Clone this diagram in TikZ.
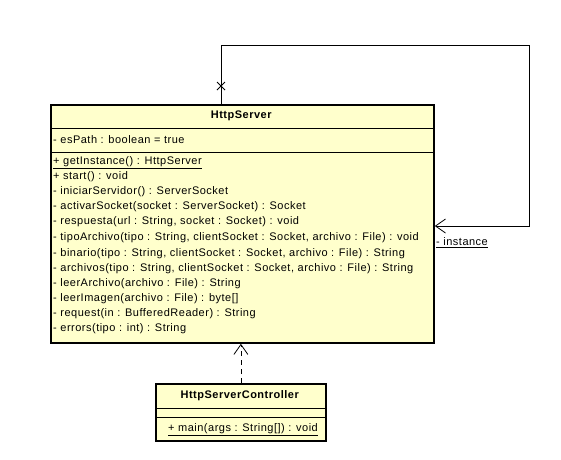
\documentclass[tikz,border=0pt]{standalone}
\usepackage{fontspec}
\setmainfont{Liberation Sans}[LetterSpace=4.5]
\usetikzlibrary{arrows.meta}
\definecolor{umlyellow}{RGB}{255,255,204}

\begin{document}
\begin{tikzpicture}[x=1pt,y=-1pt]
						\tikzstyle{every node}+=[inner sep=0pt, font=\fontsize{11}{13}\selectfont]
						\tikzstyle{classbox}=[draw=black, line width=1.8pt, fill=umlyellow, anchor=north west]
						\tikzstyle{sep}=[black, line width=0.9pt]
						\tikzstyle{openhead}=[-{Straight Barb[length=10pt,width=14pt,line width=0.8pt]}]
						\useasboundingbox (0,0) rectangle (561,459);
						\node [classbox, minimum width=383pt, minimum height=238pt] (server) at (50,104) {};
						\draw [sep] (50,128) -- (433,128);
						\draw [sep] (50,152) -- (433,152);
						\draw (241.5,116) node {\textbf{HttpServer}};
						\draw (53,140) node [right] {- esPath : boolean = true};
						\draw (53,163) node [right] {\underline{+ getInstance() : HttpServer}};
						\draw (53,177) node [right] {+ start() : void};
						\draw (53,192) node [right] {- iniciarServidor() : ServerSocket};
						\draw (53,207) node [right] {- activarSocket(socket : ServerSocket) : Socket};
						\draw (53,222) node [right] {- respuesta(url : String, socket : Socket) : void};
						\draw (53,238) node [right] {- tipoArchivo(tipo : String, clientSocket : Socket, archivo : File) : void};
						\draw (53,254) node [right] {- binario(tipo : String, clientSocket : Socket, archivo : File) : String};
						\draw (53,269) node [right] {- archivos(tipo : String, clientSocket : Socket, archivo : File) : String};
						\draw (53,284) node [right] {- leerArchivo(archivo : File) : String};
						\draw (53,299) node [right] {- leerImagen(archivo : File) : byte[]};
						\draw (53,314) node [right] {- request(in : BufferedReader) : String};
						\draw (53,329) node [right] {- errors(tipo : int) : String};
						\node [classbox, minimum width=170pt, minimum height=57pt] (controller) at (155,383) {};
						\draw [sep] (155,408) -- (325,408);
						\draw [sep] (155,417) -- (325,417);
						\draw (240,396) node {\textbf{HttpServerController}};
						\draw (168,430) node [right] {\underline{+ main(args : String[]) : void}};
						% self association
						\draw [black, line width=0.8pt, openhead] ([xshift=171pt]server.north west) -- (221,45) -- (529,45) -- (529,226) -- ([yshift=-122pt]server.north east);
						\draw [black, line width=0.8pt] (217,82) -- (225,90);
						\draw [black, line width=0.8pt] (225,82) -- (217,90);
						\draw (436,243) node [right] {\underline{- instance}};
						% dependency
						\draw [black, line width=0.8pt, dash pattern=on 5pt off 4pt, openhead] (controller.north) -- (controller.north |- server.south);
					\end{tikzpicture}
\end{document}
